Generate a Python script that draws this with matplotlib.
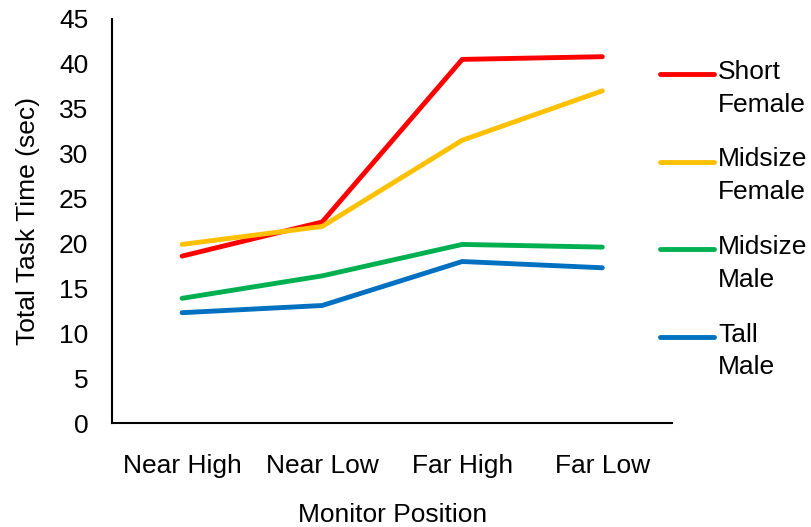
import matplotlib
matplotlib.use("Agg")
import matplotlib.pyplot as plt
from matplotlib.lines import Line2D

plt.rcParams.update({
    "font.family": ["Liberation Sans", "DejaVu Sans"],
    "font.size": 19,
})

# ── Data ──────────────────────────────────────────────────────────────────────
positions = ["Near High", "Near Low", "Far High", "Far Low"]
series_names = ["Short\nFemale", "Midsize\nFemale", "Midsize\nMale", "Tall\nMale"]
short_female = [18.6, 22.4, 40.5, 40.8]
midsize_female = [19.9, 21.9, 31.5, 37.0]
midsize_male = [13.9, 16.4, 19.9, 19.6]
tall_male = [12.3, 13.1, 18.0, 17.3]
colors = ["#FF0000", "#FFC000", "#00B050", "#0070C0"]
yticks = list(range(0, 50, 5))

# ── Figure ────────────────────────────────────────────────────────────────────
fig = plt.figure(figsize=(8.12, 5.27), dpi=100)
ax = fig.add_axes([0.138, 0.197, 0.690, 0.767])

all_series = [short_female, midsize_female, midsize_male, tall_male]
x = list(range(len(positions)))
for vals, c in zip(all_series, colors):
    ax.plot(x, vals, color=c, lw=3.5, solid_capstyle="round",
            solid_joinstyle="round")

ax.set_xlim(-0.5, len(positions) - 0.5)
ax.set_ylim(0, 45)
ax.set_xticks(x)
ax.set_xticklabels(positions)
ax.set_yticks(yticks)
ax.tick_params(axis="x", length=0, pad=22)
ax.tick_params(axis="y", length=0, pad=17)
for side in ("top", "right"):
    ax.spines[side].set_visible(False)
for side in ("left", "bottom"):
    ax.spines[side].set_linewidth(1.5)
    ax.spines[side].set_color("black")

ax.set_xlabel("Monitor Position", labelpad=18)
ax.set_ylabel("Total Task Time (sec)", labelpad=14)

# ── Legend (handles aligned with first text line, like the original) ─────────
W, H = 812, 527
y0, dy = 74, 87.5
for i, (name, c) in enumerate(zip(series_names, colors)):
    yp = y0 + i * dy
    fig.add_artist(Line2D([660 / W, 714 / W], [1 - yp / H, 1 - yp / H],
                          color=c, lw=3.5, solid_capstyle="round",
                          transform=fig.transFigure))
    fig.text(718 / W, 1 - (yp - 14) / H, name, ha="left", va="top",
             linespacing=1.45)

fig.savefig("out.png", dpi=100)
